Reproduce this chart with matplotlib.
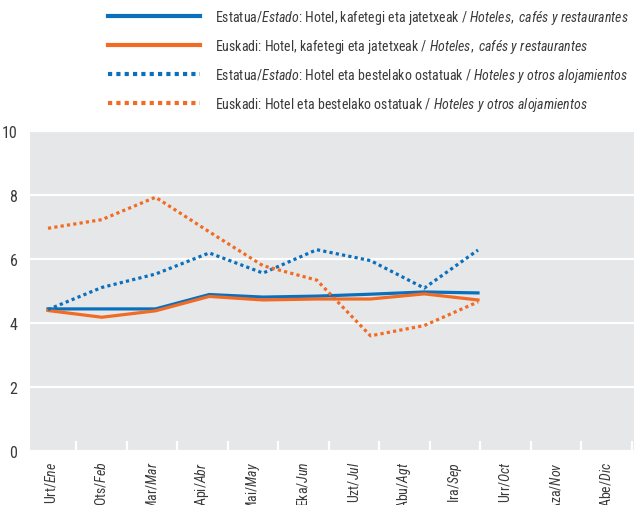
import matplotlib
matplotlib.use("Agg")
import matplotlib.pyplot as plt
from matplotlib.lines import Line2D
from matplotlib.ticker import FixedLocator

FONT = "Roboto Condensed"
plt.rcParams['font.family'] = [FONT, 'DejaVu Sans']
plt.rcParams['mathtext.fontset'] = 'custom'
plt.rcParams['mathtext.rm'] = FONT
plt.rcParams['mathtext.it'] = FONT + ':italic'

months = [r"Urt/$\mathit{Ene}$", r"Ots/$\mathit{Feb}$", r"Mar/$\mathit{Mar}$", r"Api/$\mathit{Abr}$",
          r"Mai/$\mathit{May}$", r"Eka/$\mathit{Jun}$", r"Uzt/$\mathit{Jul}$", r"Abu/$\mathit{Agt}$",
          r"Ira/$\mathit{Sep}$", r"Urr/$\mathit{Oct}$", r"Aza/$\mathit{Nov}$", r"Abe/$\mathit{Dic}$"]

estado_hcr = [4.44, 4.44, 4.44, 4.89, 4.81, 4.84, 4.90, 4.97, 4.94]
euskadi_hcr = [4.39, 4.18, 4.38, 4.83, 4.72, 4.75, 4.75, 4.91, 4.72]
estado_hoa = [4.42, 5.11, 5.53, 6.19, 5.56, 6.29, 5.95, 5.09, 6.28]
euskadi_hoa = [6.96, 7.23, 7.93, 6.85, 5.79, 5.34, 3.60, 3.92, 4.66]

labels = [
    r"Estatua/$\mathit{Estado}$: Hotel, kafetegi eta jatetxeak / $\mathit{Hoteles,\ cafés\ y\ restaurantes}$",
    r"Euskadi: Hotel, kafetegi eta jatetxeak / $\mathit{Hoteles,\ cafés\ y\ restaurantes}$",
    r"Estatua/$\mathit{Estado}$: Hotel eta bestelako ostatuak / $\mathit{Hoteles\ y\ otros\ alojamientos}$",
    r"Euskadi: Hotel eta bestelako ostatuak / $\mathit{Hoteles\ y\ otros\ alojamientos}$",
]

BLUE = "#0a70bd"
ORANGE = "#f26b24"
BG = "#e6e7e8"
TXT = "#3a3a3a"

fig = plt.figure(figsize=(6.4, 5.06), dpi=100)
W, H = 640, 506
L, R, T, B = 30, 634, 132, 452
ax = fig.add_axes([L / W, 1 - B / H, (R - L) / W, (B - T) / H])
ax.set_facecolor(BG)
for s in ax.spines.values():
    s.set_visible(False)

ax.set_ylim(0, 10)
ax.set_yticks([0, 2, 4, 6, 8, 10])
ax.yaxis.grid(True, color="white", linewidth=1.6)
ax.set_axisbelow(True)

px_cat = 50.5
ax.set_xlim(0.5 - (76 - L) / px_cat, 0.5 + (R - 76) / px_cat)
ax.set_xticks(range(len(months)))
ax.set_xticklabels(months, rotation=90, va="top", ha="center", fontsize=10, color=TXT)
ax.xaxis.set_minor_locator(FixedLocator([i + 0.5 for i in range(len(months))]))
ax.tick_params(axis="x", which="major", length=0, pad=7)
ax.tick_params(axis="x", which="minor", direction="in", length=7, width=1.6, color="white")
ax.tick_params(axis="y", length=0, pad=9, labelsize=11.5, labelcolor=TXT)

# lines on a twin x-axis
ax2 = ax.twiny()
px_pt = (478 - 48) / 8
ax2.set_xlim(-(48 - L) / px_pt, 8 + (R - 478) / px_pt)
ax2.set_axis_off()
x = list(range(len(estado_hcr)))
lw = 2.3
ax2.plot(x, estado_hcr, color=BLUE, lw=lw)
ax2.plot(x, euskadi_hcr, color=ORANGE, lw=lw)
ax2.plot(x, estado_hoa, color=BLUE, lw=lw, linestyle=(0, (1, 1)), dash_capstyle="butt")
ax2.plot(x, euskadi_hoa, color=ORANGE, lw=lw, linestyle=(0, (1, 1)), dash_capstyle="butt")
ax.set_zorder(ax2.get_zorder() - 1)
ax2.patch.set_visible(False)

handles = [Line2D([], [], color=BLUE, lw=3),
           Line2D([], [], color=ORANGE, lw=3),
           Line2D([], [], color=BLUE, lw=3, linestyle=(0, (1, 1)), dash_capstyle="butt"),
           Line2D([], [], color=ORANGE, lw=3, linestyle=(0, (1, 1)), dash_capstyle="butt")]
fs = 10
fs_px = fs * 100 / 72
fig.legend(handles, labels, loc="upper left", bbox_to_anchor=(108 / W, 1 - 9 / H),
           frameon=False, fontsize=fs, borderpad=0, borderaxespad=0,
           handlelength=92 / fs_px, handletextpad=15 / fs_px, labelspacing=0.78,
           labelcolor=TXT)

fig.savefig("out.png", dpi=100)
